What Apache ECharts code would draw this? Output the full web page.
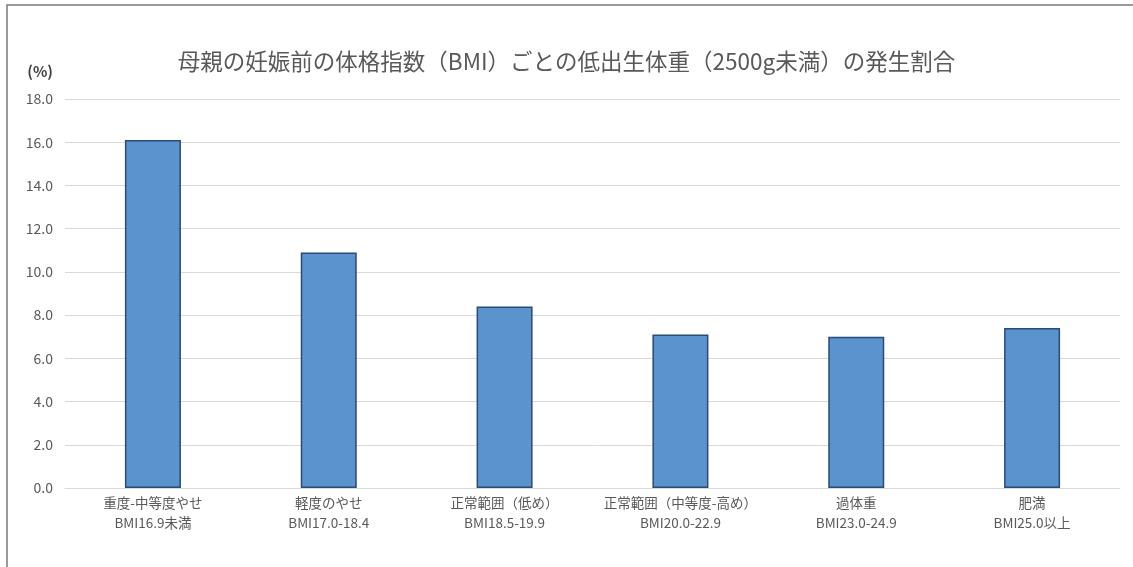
<!DOCTYPE html>
<html>
<head>
<meta charset="utf-8">
<script src="https://cdn.jsdelivr.net/npm/echarts@6/dist/echarts.min.js"></script>
<style>
html,body{margin:0;padding:0;background:#fff;}
#c{width:1133px;height:567px;}
</style>
</head>
<body>
<div id="c"></div>
<script>
const titleText = '母親の妊娠前の体格指数（BMI）ごとの低出生体重（2500g未満）の発生割合';
const categories = [
  '重度-中等度やせ\nBMI16.9未満',
  '軽度のやせ\nBMI17.0-18.4',
  '正常範囲（低め）\nBMI18.5-19.9',
  '正常範囲（中等度-高め）\nBMI20.0-22.9',
  '過体重\nBMI23.0-24.9',
  '肥満\nBMI25.0以上'
];
const values = [16.1, 10.9, 8.4, 7.1, 7.0, 7.4];
const yUnit = '(%)';
const yMin = 0, yMax = 18, yStep = 2;

const font = '"Noto Sans CJK JP", "Noto Sans", sans-serif';
const chart = echarts.init(document.getElementById('c'), null, {renderer: 'canvas'});
chart.setOption({
  backgroundColor: '#ffffff',
  animation: false,
  title: {
    text: titleText,
    left: 'center',
    top: 45,
    textStyle: {fontFamily: font, fontSize: 22.5, fontWeight: 'normal', color: '#595959'}
  },
  graphic: [{
    type: 'rect',
    shape: {x: 7, y: 5, width: 1300, height: 800},
    style: {fill: 'none', stroke: '#7a7a7a', lineWidth: 1.5},
    silent: true
  }],
  grid: {left: 65, right: 13, top: 99, bottom: 79, containLabel: false},
  xAxis: {
    type: 'category',
    data: categories,
    axisLine: {show: true, lineStyle: {color: '#d9d9d9', width: 1}},
    axisTick: {show: false},
    axisLabel: {
      interval: 0,
      fontFamily: font, fontSize: 13.5, color: '#595959',
      lineHeight: 20, margin: 5
    }
  },
  yAxis: {
    type: 'value',
    min: yMin, max: yMax, interval: yStep,
    name: yUnit,
    nameLocation: 'end',
    nameGap: 20,
    nameTextStyle: {fontFamily: font, fontSize: 15, color: '#404040', fontWeight: 'bold', align: 'right', padding: [0, 12, 0, 0]},
    axisLine: {show: false},
    axisTick: {show: false},
    splitLine: {lineStyle: {color: '#d9d9d9', width: 1}},
    axisLabel: {
      fontFamily: font, fontSize: 14, color: '#595959', margin: 12,
      formatter: v => v.toFixed(1)
    }
  },
  series: [{
    type: 'bar',
    data: values,
    barWidth: 56,
    itemStyle: {color: '#5b93cf', borderColor: '#2a4a78', borderWidth: 1.5}
  }]
});
</script>
</body>
</html>
